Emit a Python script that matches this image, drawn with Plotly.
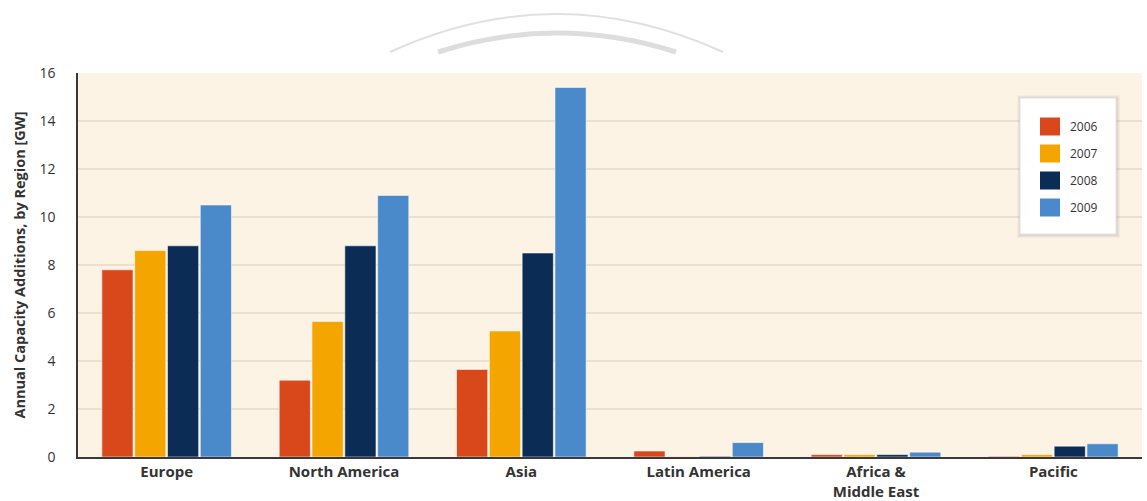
import plotly.graph_objects as go

# Annual capacity additions by region, GW
regions = ["Europe", "North America", "Asia", "Latin America",
           "Africa &<br>Middle East", "Pacific"]
years = ["2006", "2007", "2008", "2009"]
gw_2006 = [7.8, 3.2, 3.65, 0.25, 0.1, 0.03]
gw_2007 = [8.6, 5.65, 5.25, 0.02, 0.1, 0.1]
gw_2008 = [8.8, 8.8, 8.5, 0.03, 0.1, 0.45]
gw_2009 = [10.5, 10.9, 15.4, 0.6, 0.2, 0.55]
series = [gw_2006, gw_2007, gw_2008, gw_2009]
colors = ["#d9481b", "#f5a500", "#0b2c55", "#4a8acb"]

W, H = 1147, 501
L, R, T, B = 78, 5, 73, 44
FONT = "Open Sans, DejaVu Sans, sans-serif"

fig = go.Figure()
for year, vals, col in zip(years, series, colors):
    fig.add_trace(go.Bar(
        name=year, x=regions, y=vals, showlegend=False,
        marker=dict(color=col, line=dict(color="rgba(255,255,255,0.55)", width=1)),
    ))

# pixel -> paper helpers for the decorations and the boxed legend
pw, ph = W - L - R, H - T - B
def px(x):
    return (x - L) / pw
def py(y):
    return (H - B - y) / ph

def arc(x0, x1, ypeak, ybase):
    cx = (x0 + x1) / 2
    cy = 2 * ypeak - ybase
    return f"M {px(x0)},{py(ybase)} Q {px(cx)},{py(cy)} {px(x1)},{py(ybase)}"

shapes = [
    dict(type="path", xref="paper", yref="paper", path=arc(390, 723, 14, 52),
         line=dict(color="#e0e0e0", width=2)),
    dict(type="path", xref="paper", yref="paper", path=arc(438, 676, 33, 52),
         line=dict(color="#dddddd", width=5)),
]

# legend: white box with a soft shadow, one swatch + label per year
box_l, box_r, box_t, box_b = 1020, 1116, 98, 234
for off, alpha in [(4, 0.05), (3, 0.06), (2, 0.08)]:
    shapes.append(dict(type="rect", xref="paper", yref="paper", layer="above",
                       x0=px(box_l - off + 1), x1=px(box_r + off), y0=py(box_b + off),
                       y1=py(box_t - off + 1),
                       fillcolor=f"rgba(90,80,70,{alpha})", line=dict(width=0)))
shapes.append(dict(type="rect", xref="paper", yref="paper", layer="above",
                   x0=px(box_l), x1=px(box_r), y0=py(box_b), y1=py(box_t),
                   fillcolor="white", line=dict(color="#e2e2e2", width=1)))

annotations = []
row0, step = 126.5, 27
for i, (year, col) in enumerate(zip(years, colors)):
    cy = row0 + i * step
    shapes.append(dict(type="rect", xref="paper", yref="paper", layer="above",
                       x0=px(1040), x1=px(1060), y0=py(cy + 9), y1=py(cy - 9),
                       fillcolor=col, line=dict(width=0)))
    annotations.append(dict(xref="paper", yref="paper", x=px(1068), y=py(cy),
                            xanchor="left", yanchor="middle", showarrow=False,
                            text=year, font=dict(family=FONT, size=12, color="#333333")))

fig.update_layout(
    width=W, height=H,
    margin=dict(l=L, r=R, t=T, b=B),
    paper_bgcolor="white",
    plot_bgcolor="#fdf3e5",
    barmode="group",
    bargap=0.26,
    bargroupgap=0.05,
    font=dict(family=FONT, color="#333333"),
    shapes=shapes,
    annotations=annotations,
    showlegend=False,
    xaxis=dict(
        showline=True, linecolor="#3a3a3a", linewidth=2,
        tickfont=dict(size=15, weight="bold", color="#333333"),
        ticks="", showgrid=False, automargin=False,
    ),
    yaxis=dict(
        range=[0, 16], dtick=2,
        showline=True, linecolor="#3a3a3a", linewidth=1.5,
        gridcolor="#ebe0cf", gridwidth=1.5,
        ticks="", ticklabelstandoff=18,
        tickfont=dict(size=14, color="#333333"),
        zeroline=False, automargin=False,
        title=dict(text="Annual Capacity Additions, by Region [GW]",
                   font=dict(size=14.5, weight="bold", color="#333333"),
                   standoff=10),
    ),
)

fig.write_html("out.html")
